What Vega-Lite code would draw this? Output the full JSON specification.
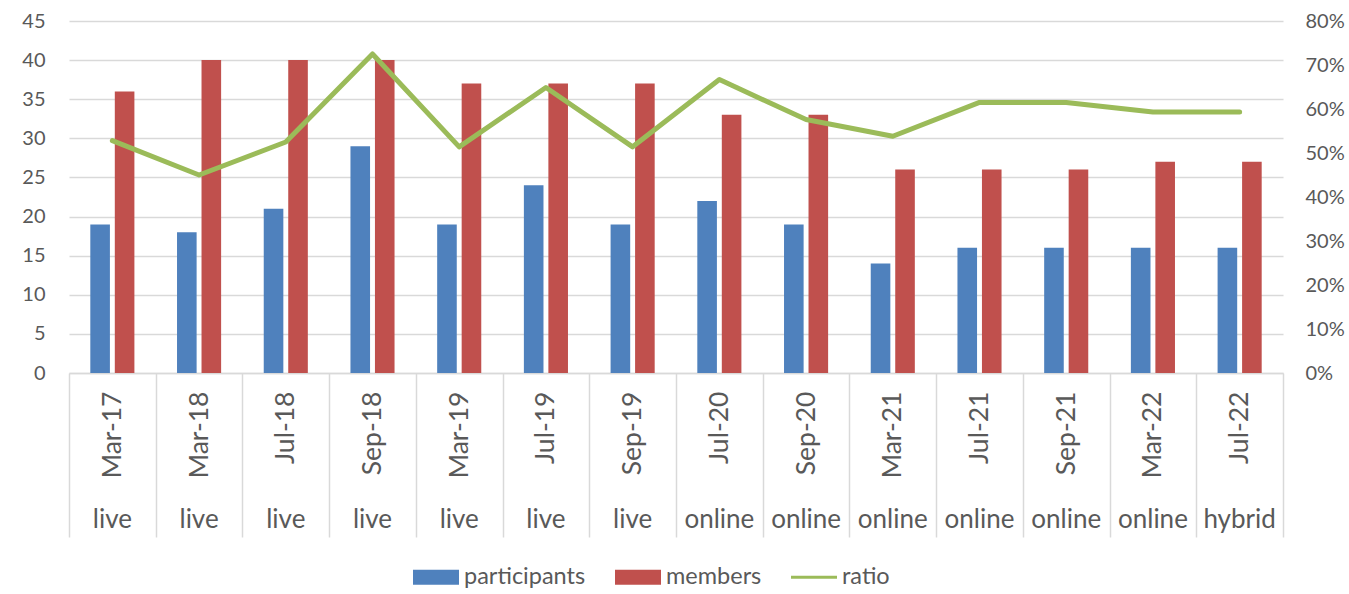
{
  "$schema": "https://vega.github.io/schema/vega-lite/v6.json",
  "width": 1214,
  "height": 352,
  "autosize": "none",
  "padding": {"left": 69, "top": 21, "right": 66, "bottom": 221},
  "data": {
    "values": [
      {"session": "Mar-17 live", "participants": 19, "members": 36, "ratio": 0.528},
      {"session": "Mar-18 live", "participants": 18, "members": 40, "ratio": 0.45},
      {"session": "Jul-18 live", "participants": 21, "members": 40, "ratio": 0.525},
      {"session": "Sep-18 live", "participants": 29, "members": 40, "ratio": 0.725},
      {"session": "Mar-19 live", "participants": 19, "members": 37, "ratio": 0.514},
      {"session": "Jul-19 live", "participants": 24, "members": 37, "ratio": 0.649},
      {"session": "Sep-19 live", "participants": 19, "members": 37, "ratio": 0.514},
      {"session": "Jul-20 online", "participants": 22, "members": 33, "ratio": 0.667},
      {"session": "Sep-20 online", "participants": 19, "members": 33, "ratio": 0.576},
      {"session": "Mar-21 online", "participants": 14, "members": 26, "ratio": 0.538},
      {"session": "Jul-21 online", "participants": 16, "members": 26, "ratio": 0.615},
      {"session": "Sep-21 online", "participants": 16, "members": 26, "ratio": 0.615},
      {"session": "Mar-22 online", "participants": 16, "members": 27, "ratio": 0.593},
      {"session": "Jul-22 hybrid", "participants": 16, "members": 27, "ratio": 0.593}
    ]
  },
  "layer": [
    {
      "transform": [{"fold": ["participants", "members"], "as": ["series", "value"]}],
      "mark": {"type": "bar"},
      "encoding": {
        "x": {
          "field": "session", "type": "nominal", "sort": null,
          "scale": {"paddingInner": 0, "paddingOuter": 0},
          "axis": {
            "orient": "bottom", "title": null,
            "labelExpr": "split(datum.label, ' ')[0]",
            "labelAngle": -90, "labelAlign": "right", "labelBaseline": "middle",
            "labelFontSize": 26.5, "labelColor": "#595959", "labelFont": "Lato",
            "labelPadding": -146,
            "ticks": true, "tickBand": "extent", "tickSize": 164, "tickColor": "#d9d9d9", "tickWidth": 1.5,
            "domain": true, "domainColor": "#d9d9d9", "domainWidth": 1.5,
            "grid": false
          }
        },
        "xOffset": {"field": "series", "type": "nominal", "sort": ["participants", "members"],
          "scale": {"paddingInner": 0.2, "paddingOuter": 0.87}},
        "y": {
          "field": "value", "type": "quantitative",
          "scale": {"domain": [0, 45], "nice": false},
          "axis": {
            "orient": "left", "title": null, "values": [0,5,10,15,20,25,30,35,40,45],
            "labelFontSize": 20, "labelColor": "#595959", "labelFont": "Lato", "labelPadding": 24,
            "domain": false, "ticks": false,
            "grid": true, "gridColor": "#d9d9d9", "gridWidth": 1.5
          }
        },
        "color": {
          "field": "series", "type": "nominal",
          "scale": {"domain": ["participants", "members", "ratio"], "range": ["#4F81BD", "#C0504D", "#9BBB59"]},
          "legend": {
            "title": null, "orient": "none", "legendX": 344, "legendY": 533, "direction": "horizontal",
            "labelFontSize": 23.5, "labelColor": "#595959", "labelFont": "Lato",
            "labelOffset": 5, "columnPadding": 29, "symbolSize": 2116,
            "symbolType": "M-1,-0.33L1,-0.33L1,0.33L-1,0.33Z",
            "encode": {
              "symbols": {
                "update": {
                  "shape": {"signal": "datum.value === 'ratio' ? 'M-1,-0.065L1,-0.065L1,0.065L-1,0.065Z' : 'M-1,-0.33L1,-0.33L1,0.33L-1,0.33Z'"},
                  "fill": {"scale": "color", "field": "value"},
                  "strokeWidth": {"value": 0},
                  "opacity": {"value": 1}
                }
              }
            }
          }
        }
      }
    },
    {
      "mark": {"type": "line", "strokeWidth": 5, "strokeCap": "round", "strokeJoin": "round"},
      "encoding": {
        "x": {
          "field": "session", "type": "nominal", "sort": null,
          "axis": {
            "orient": "bottom", "title": null,
            "labelExpr": "split(datum.label, ' ')[1]",
            "labelAngle": 0, "labelAlign": "center", "labelBaseline": "middle",
            "labelFontSize": 26, "labelColor": "#595959", "labelFont": "Lato",
            "labelPadding": 0, "offset": 146,
            "ticks": false, "domain": false, "grid": false
          }
        },
        "y": {
          "field": "ratio", "type": "quantitative",
          "scale": {"domain": [0, 0.8], "nice": false},
          "axis": {
            "orient": "right", "title": null, "format": ".0%",
            "values": [0,0.1,0.2,0.3,0.4,0.5,0.6,0.7,0.8],
            "labelFontSize": 20, "labelColor": "#595959", "labelFont": "Lato", "labelPadding": 22,
            "domain": false, "ticks": false, "grid": false
          }
        },
        "color": {"datum": "ratio", "type": "nominal"}
      }
    }
  ],
  "resolve": {"scale": {"y": "independent"}, "axis": {"x": "independent"}},
  "config": {"view": {"stroke": null}}
}
